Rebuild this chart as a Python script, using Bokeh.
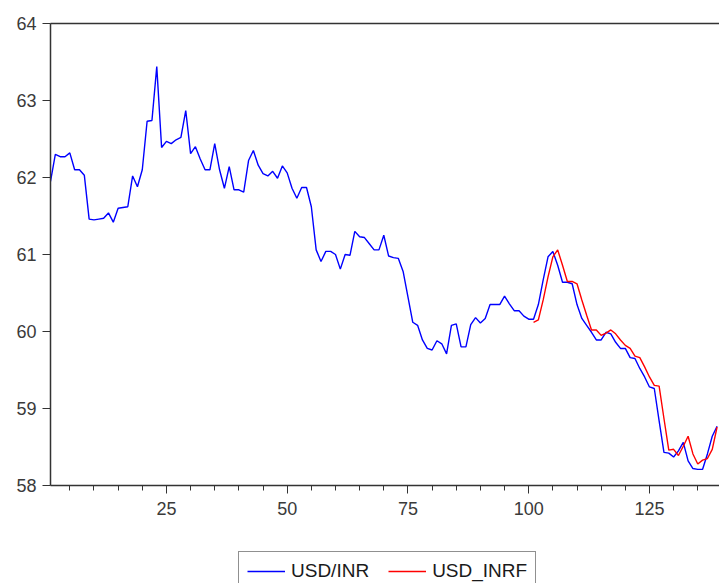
from bokeh.plotting import figure
from bokeh.layouts import column
from bokeh.models import (ColumnDataSource, Range1d, FixedTicker, LinearAxis,
                          Legend, LegendItem)
from bokeh.embed import file_html
from bokeh.resources import INLINE

# Exchange rate series (observation number -> rupees per dollar)
usd_inr = [
    61.95, 62.30, 62.27, 62.27, 62.32, 62.10, 62.10, 62.03, 61.46, 61.45,
    61.46, 61.47, 61.54, 61.42, 61.60, 61.61, 61.62, 62.02, 61.88, 62.10,
    62.73, 62.74, 63.44, 62.39, 62.47, 62.44, 62.49, 62.52, 62.87, 62.31,
    62.40, 62.24, 62.10, 62.10, 62.44, 62.10, 61.86, 62.14, 61.84, 61.84,
    61.81, 62.22, 62.35, 62.16, 62.05, 62.02, 62.08, 61.99, 62.15, 62.06,
    61.86, 61.73, 61.87, 61.87, 61.62, 61.06, 60.91, 61.04, 61.04, 61.00,
    60.81, 61.00, 60.99, 61.30, 61.23, 61.22, 61.14, 61.06, 61.06, 61.25,
    60.98, 60.96, 60.95, 60.78, 60.45, 60.12, 60.08, 59.89, 59.78, 59.76,
    59.88, 59.84, 59.71, 60.08, 60.10, 59.80, 59.80, 60.09, 60.18, 60.11,
    60.17, 60.35, 60.35, 60.35, 60.46, 60.36, 60.27, 60.27, 60.20, 60.16,
    60.16, 60.35, 60.67, 60.97, 61.04, 60.86, 60.64, 60.64, 60.62, 60.35,
    60.17, 60.08, 59.99, 59.89, 59.89, 59.99, 59.97, 59.86, 59.78, 59.78,
    59.66, 59.65, 59.52, 59.41, 59.28, 59.26, 58.84, 58.43, 58.42, 58.37,
    58.45, 58.56, 58.32, 58.22, 58.21, 58.21, 58.41, 58.64, 58.77,
]
obs = list(range(1, len(usd_inr) + 1))

# Forecast series, available from observation 101 onward
forecast_start = 101
usd_inrf = [
    60.12, 60.15, 60.41, 60.71, 60.97, 61.06, 60.86, 60.65, 60.65, 60.62,
    60.41, 60.21, 60.02, 60.02, 59.95, 59.98, 60.02, 59.97, 59.89, 59.82,
    59.78, 59.68, 59.66, 59.54, 59.41, 59.30, 59.29, 58.87, 58.46, 58.47,
    58.39, 58.51, 58.64, 58.41, 58.28, 58.33, 58.35, 58.47, 58.76,
]
obs_f = list(range(forecast_start, forecast_start + len(usd_inrf)))

series_labels = ["USD/INR", "USD_INRF"]
series_colors = ["#0000ff", "#ff0000"]

x_major = [25, 50, 75, 100, 125]
x_minor = list(range(5, 140, 5))
y_ticks = [58, 59, 60, 61, 62, 63, 64]

FONT = "Liberation Sans"
AXIS_COLOR = "#333333"
TEXT_COLOR = "#3a3a3a"
LINE_W = 1.4

src = ColumnDataSource(dict(x=obs, y=usd_inr))
src_f = ColumnDataSource(dict(x=obs_f, y=usd_inrf))

# ---- main chart ----
p = figure(width=719, height=548, output_backend="svg", toolbar_location=None,
           x_range=Range1d(1, 139.5), y_range=Range1d(58, 64),
           min_border_left=50, min_border_right=0, min_border_top=23,
           min_border_bottom=63, x_axis_location=None, y_axis_location=None)
p.outline_line_color = None
p.xgrid.grid_line_color = None
p.ygrid.grid_line_color = None
p.background_fill_color = "white"
p.border_fill_color = "white"

p.line("x", "y", source=src, line_color=series_colors[0], line_width=LINE_W)
p.line("x", "y", source=src_f, line_color=series_colors[1], line_width=LINE_W)

xaxis = LinearAxis(ticker=FixedTicker(ticks=x_major, minor_ticks=x_minor))
xaxis.axis_line_color = AXIS_COLOR
xaxis.axis_line_width = 1.5
xaxis.major_tick_line_color = AXIS_COLOR
xaxis.minor_tick_line_color = AXIS_COLOR
xaxis.major_tick_out = 8
xaxis.major_tick_in = 0
xaxis.minor_tick_out = 5
xaxis.minor_tick_in = 0
xaxis.major_label_standoff = 8
xaxis.major_label_text_font = FONT
xaxis.major_label_text_font_size = "18px"
xaxis.major_label_text_color = TEXT_COLOR
p.add_layout(xaxis, "below")

yaxis = LinearAxis(ticker=FixedTicker(ticks=y_ticks, minor_ticks=[]))
yaxis.axis_line_color = AXIS_COLOR
yaxis.axis_line_width = 1.5
yaxis.major_tick_line_color = AXIS_COLOR
yaxis.major_tick_out = 8
yaxis.major_tick_in = 0
yaxis.minor_tick_line_color = None
yaxis.major_label_standoff = 6
yaxis.major_label_text_font = FONT
yaxis.major_label_text_font_size = "18px"
yaxis.major_label_text_color = TEXT_COLOR
p.add_layout(yaxis, "left")

# top frame line only
top = LinearAxis(ticker=FixedTicker(ticks=[]))
top.axis_line_color = AXIS_COLOR
top.axis_line_width = 1.5
top.major_tick_line_color = None
top.minor_tick_line_color = None
top.major_label_text_font_size = "0px"
p.add_layout(top, "above")

# ---- legend strip under the chart ----
# the key lines reuse the series data; the strip's ranges keep them off-view
lg = figure(width=719, height=35, output_backend="svg", toolbar_location=None,
            x_range=Range1d(-10, -5), y_range=Range1d(0, 1),
            min_border=0, x_axis_location=None, y_axis_location=None)
lg.outline_line_color = None
lg.xgrid.grid_line_color = None
lg.ygrid.grid_line_color = None
lg.border_fill_color = "white"
keys = [lg.line("x", "y", source=s, line_color=c, line_width=LINE_W)
        for s, c in zip([src, src_f], series_colors)]

legend = Legend(items=[LegendItem(label=t, renderers=[r])
                       for t, r in zip(series_labels, keys)],
                orientation="horizontal", location=(188, -8))
legend.label_text_font = FONT
legend.label_text_font_size = "19px"
legend.label_text_color = "#1a1a1a"
legend.glyph_width = 38
legend.glyph_height = 16
legend.label_standoff = 6
legend.spacing = 19
legend.padding = 8
legend.margin = 0
legend.border_line_color = "#222222"
legend.border_line_width = 1
legend.background_fill_color = "white"
legend.background_fill_alpha = 1
lg.add_layout(legend, "center")

open("out.html", "w").write(file_html(column(p, lg, spacing=0), INLINE))
